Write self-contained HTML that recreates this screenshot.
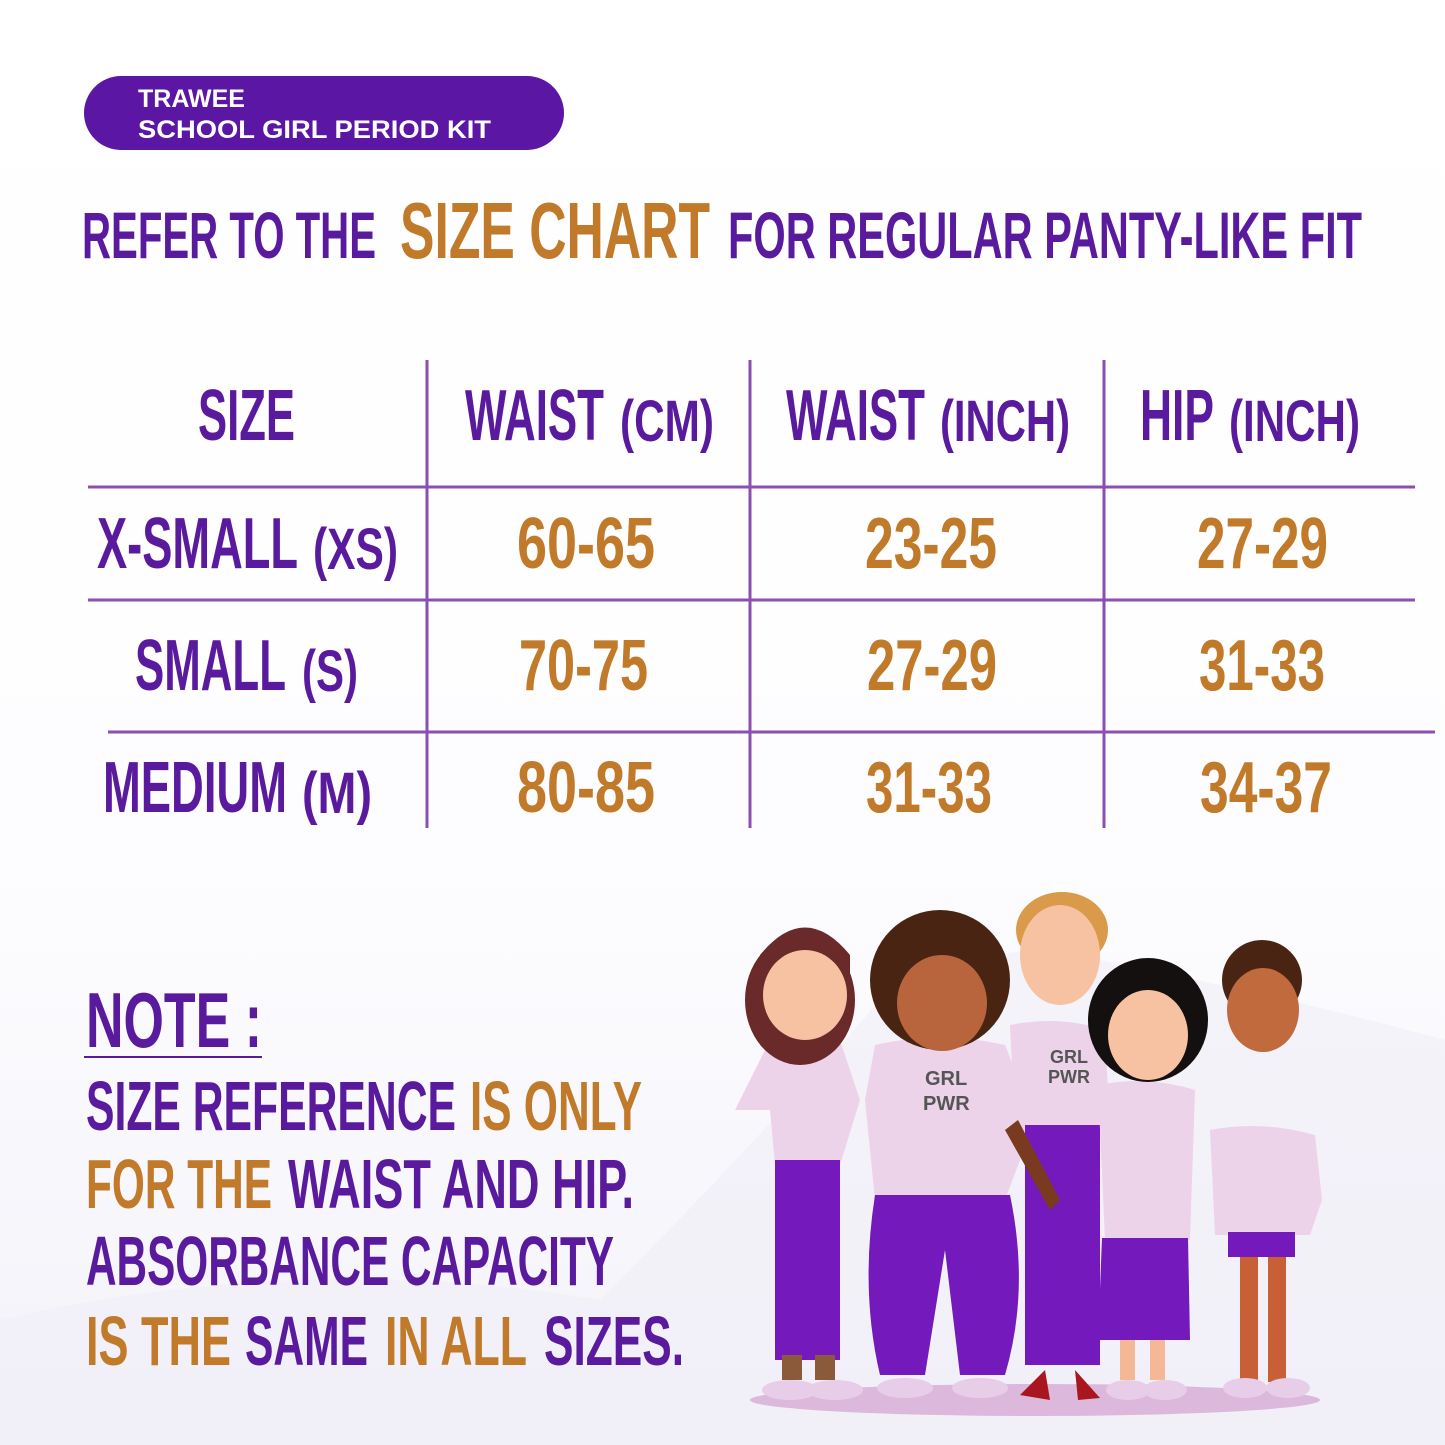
<!DOCTYPE html>
<html><head><meta charset="utf-8"><style>
html,body{margin:0;padding:0;background:#fff}
svg{display:block}
text{font-family:"Liberation Sans Narrow","Liberation Sans",sans-serif;font-weight:bold}
</style></head><body>
<svg width="1445" height="1445" viewBox="0 0 1445 1445" xmlns="http://www.w3.org/2000/svg">
<defs>
<linearGradient id="bg" x1="0" y1="0" x2="0" y2="1">
<stop offset="0" stop-color="#fff"/><stop offset="0.6" stop-color="#fdfdff"/><stop offset="1" stop-color="#f3f2f9"/>
</linearGradient>
</defs>
<rect width="1445" height="1445" fill="url(#bg)"/>
<path d="M0 1320 Q300 1250 600 1300 Q750 1150 880 1000 Q1000 930 1100 960 Q1300 1000 1445 1040 L1445 1445 L0 1445Z" fill="#eeecf6" opacity="0.55"/>

<rect x="84" y="76" width="480" height="74" rx="37" fill="#5b16a3"/>
<text x="138" y="107" fill="#fff" font-size="25" style="font-family:'Liberation Sans',sans-serif">TRAWEE</text>
<text x="138" y="138" fill="#fff" font-size="25" style="font-family:'Liberation Sans',sans-serif" textLength="353" lengthAdjust="spacingAndGlyphs">SCHOOL GIRL PERIOD KIT</text>

<g fill="#5a1a9e">
<text x="82" y="258" font-size="66" textLength="294" lengthAdjust="spacingAndGlyphs">REFER TO THE</text>
<text x="728" y="258" font-size="66" textLength="634" lengthAdjust="spacingAndGlyphs">FOR REGULAR PANTY-LIKE FIT</text>
</g>
<text x="400" y="258" font-size="80" fill="#c07a2a" textLength="310" lengthAdjust="spacingAndGlyphs">SIZE CHART</text>

<g stroke="#8a4fb0" stroke-width="3">
<line x1="427" y1="360" x2="427" y2="828"/>
<line x1="750" y1="360" x2="750" y2="828"/>
<line x1="1104" y1="360" x2="1104" y2="828"/>
<line x1="88" y1="487" x2="1415" y2="487"/>
<line x1="88" y1="600" x2="1415" y2="600"/>
<line x1="108" y1="732" x2="1435" y2="732"/>
</g>

<g fill="#5a1a9e">
<text x="198" y="440" font-size="72" textLength="97" lengthAdjust="spacingAndGlyphs">SIZE</text>
<text x="465" y="440" font-size="72" textLength="139" lengthAdjust="spacingAndGlyphs">WAIST</text>
<text x="620" y="441" font-size="58" textLength="94" lengthAdjust="spacingAndGlyphs">(CM)</text>
<text x="786" y="440" font-size="72" textLength="139" lengthAdjust="spacingAndGlyphs">WAIST</text>
<text x="940" y="441" font-size="58" textLength="130" lengthAdjust="spacingAndGlyphs">(INCH)</text>
<text x="1140" y="440" font-size="72" textLength="74" lengthAdjust="spacingAndGlyphs">HIP</text>
<text x="1229" y="441" font-size="58" textLength="131" lengthAdjust="spacingAndGlyphs">(INCH)</text>

<text x="97" y="568" font-size="72" textLength="201" lengthAdjust="spacingAndGlyphs">X-SMALL</text>
<text x="313" y="569" font-size="58" textLength="85" lengthAdjust="spacingAndGlyphs">(XS)</text>
<text x="135" y="690" font-size="72" textLength="151" lengthAdjust="spacingAndGlyphs">SMALL</text>
<text x="302" y="691" font-size="58" textLength="56" lengthAdjust="spacingAndGlyphs">(S)</text>
<text x="103" y="812" font-size="72" textLength="184" lengthAdjust="spacingAndGlyphs">MEDIUM</text>
<text x="302" y="813" font-size="58" textLength="70" lengthAdjust="spacingAndGlyphs">(M)</text>
</g>
<g fill="#c07a2a" font-size="72">
<text x="517" y="568" textLength="138" lengthAdjust="spacingAndGlyphs">60-65</text>
<text x="865" y="568" textLength="132" lengthAdjust="spacingAndGlyphs">23-25</text>
<text x="1197" y="568" textLength="131" lengthAdjust="spacingAndGlyphs">27-29</text>
<text x="519" y="690" textLength="129" lengthAdjust="spacingAndGlyphs">70-75</text>
<text x="867" y="690" textLength="130" lengthAdjust="spacingAndGlyphs">27-29</text>
<text x="1199" y="690" textLength="126" lengthAdjust="spacingAndGlyphs">31-33</text>
<text x="517" y="812" textLength="138" lengthAdjust="spacingAndGlyphs">80-85</text>
<text x="866" y="812" textLength="126" lengthAdjust="spacingAndGlyphs">31-33</text>
<text x="1200" y="812" textLength="132" lengthAdjust="spacingAndGlyphs">34-37</text>
</g>

<text x="86" y="1047" font-size="78" fill="#5a1a9e" textLength="176" lengthAdjust="spacingAndGlyphs">NOTE :</text>
<line x1="84" y1="1057" x2="262" y2="1057" stroke="#5a1a9e" stroke-width="2"/>
<g font-size="70">
<text x="86" y="1130" fill="#5a1a9e" textLength="370" lengthAdjust="spacingAndGlyphs">SIZE REFERENCE</text>
<text x="470" y="1130" fill="#c07a2a" textLength="172" lengthAdjust="spacingAndGlyphs">IS ONLY</text>
<text x="86" y="1208" fill="#c07a2a" textLength="186" lengthAdjust="spacingAndGlyphs">FOR THE</text>
<text x="288" y="1208" fill="#5a1a9e" textLength="346" lengthAdjust="spacingAndGlyphs">WAIST AND HIP.</text>
<text x="86" y="1285" fill="#5a1a9e" textLength="528" lengthAdjust="spacingAndGlyphs">ABSORBANCE CAPACITY</text>
<text x="86" y="1365" fill="#c07a2a" textLength="145" lengthAdjust="spacingAndGlyphs">IS THE</text>
<text x="245" y="1365" fill="#5a1a9e" textLength="123" lengthAdjust="spacingAndGlyphs">SAME</text>
<text x="385" y="1365" fill="#c07a2a" textLength="142" lengthAdjust="spacingAndGlyphs">IN ALL</text>
<text x="544" y="1365" fill="#5a1a9e" textLength="140" lengthAdjust="spacingAndGlyphs">SIZES.</text>
</g>

<ellipse cx="1035" cy="1400" rx="285" ry="16" fill="#dcb8dc"/>
<g>
<path d="M770 1040 Q805 1030 840 1040 L860 1100 L840 1165 L775 1165 L770 1110 L735 1110 Z" fill="#ecd3ea"/>
<rect x="775" y="1160" width="65" height="200" fill="#7419bb"/>
<rect x="782" y="1355" width="20" height="25" fill="#8a5a3a"/><rect x="815" y="1355" width="20" height="25" fill="#8a5a3a"/>
<ellipse cx="800" cy="1000" rx="55" ry="65" fill="#6b2a2a"/>
<ellipse cx="805" cy="995" rx="42" ry="45" fill="#f7c2a2"/>
<path d="M760 975 Q805 915 850 975 L850 955 Q805 900 760 955Z" fill="#6b2a2a"/>
</g>
<g>
<path d="M875 1045 Q940 1030 1005 1045 L1035 1120 L1005 1200 L875 1200 L865 1100 Z" fill="#ecd3ea"/>
<path d="M875 1195 L1010 1195 Q1030 1290 1005 1375 L960 1375 L945 1250 L925 1375 L880 1375 Q860 1290 875 1195Z" fill="#7419bb"/>
<circle cx="940" cy="980" r="70" fill="#4a2412"/>
<ellipse cx="942" cy="1003" rx="45" ry="48" fill="#b8653e"/>
<text x="925" y="1085" font-size="20" fill="#555">GRL</text><text x="923" y="1110" font-size="20" fill="#555">PWR</text>
</g>
<g>
<path d="M1010 1025 Q1060 1015 1105 1030 L1110 1130 L1015 1130 Z" fill="#ecd3ea"/>
<rect x="1025" y="1125" width="75" height="240" fill="#7419bb"/>
<path d="M1018 1120 L1060 1200 L1050 1210 L1005 1130Z" fill="#7a3a20"/>
<ellipse cx="1062" cy="930" rx="46" ry="38" fill="#d99a4a"/>
<ellipse cx="1060" cy="955" rx="40" ry="50" fill="#f7c2a2"/>
<text x="1050" y="1063" font-size="18" fill="#555">GRL</text><text x="1048" y="1083" font-size="18" fill="#555">PWR</text>
<path d="M1020 1395 L1045 1370 L1050 1400Z M1075 1370 L1100 1398 L1078 1400Z" fill="#a8161f"/>
</g>
<g>
<path d="M1098 1085 Q1148 1075 1195 1090 L1190 1240 L1105 1240 Z" fill="#ecd3ea"/>
<path d="M1102 1238 L1188 1238 L1190 1340 L1098 1340Z" fill="#7419bb"/>
<rect x="1120" y="1340" width="15" height="40" fill="#f5b896"/><rect x="1150" y="1340" width="15" height="40" fill="#f5b896"/>
<ellipse cx="1148" cy="1020" rx="60" ry="62" fill="#151010"/>
<ellipse cx="1148" cy="1035" rx="40" ry="45" fill="#f7c2a2"/>
</g>
<g>
<path d="M1210 1130 Q1262 1120 1315 1135 L1322 1200 L1310 1235 L1215 1235 Z" fill="#ecd3ea"/>
<rect x="1228" y="1232" width="67" height="25" fill="#7419bb"/>
<rect x="1240" y="1257" width="18" height="125" fill="#c95f36"/><rect x="1268" y="1257" width="18" height="125" fill="#c95f36"/>
<circle cx="1262" cy="980" r="40" fill="#4a2412"/>
<ellipse cx="1263" cy="1010" rx="36" ry="42" fill="#c06a3e"/>
</g>
<g fill="#e7cde8">
<ellipse cx="790" cy="1390" rx="28" ry="10"/><ellipse cx="835" cy="1390" rx="28" ry="10"/>
<ellipse cx="905" cy="1388" rx="28" ry="10"/><ellipse cx="980" cy="1388" rx="28" ry="10"/>
<ellipse cx="1128" cy="1390" rx="22" ry="10"/><ellipse cx="1165" cy="1390" rx="22" ry="10"/>
<ellipse cx="1245" cy="1388" rx="22" ry="10"/><ellipse cx="1288" cy="1388" rx="22" ry="10"/>
</g>
</svg>
</body></html>
